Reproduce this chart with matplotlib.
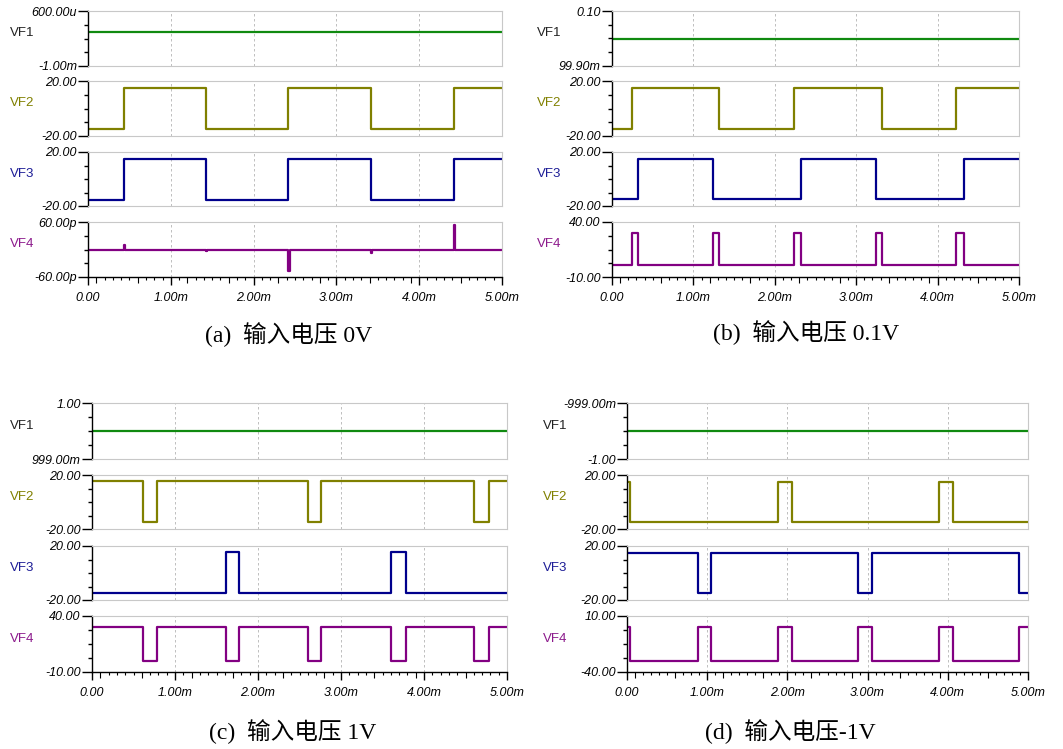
import numpy as np
import matplotlib
matplotlib.use("Agg")
import matplotlib.pyplot as plt

W, H = 1063, 749

# ---- data (time in ms) ----
# (a) input 0V
a_vf1_t = [0, 5.0]
a_vf1_v = [-0.01, -0.01]            # mV
a_vf2_t = [0, 0.43, 1.42, 2.42, 3.42, 4.42, 5.0]
a_vf2_v = [-14.9, 14.7, -14.9, 14.7, -14.9, 14.7, 14.7]
a_vf3_t = [0, 0.43, 1.42, 2.42, 3.42, 4.42, 5.0]
a_vf3_v = [-15.4, 15.1, -15.4, 15.1, -15.4, 15.1, 15.1]
a_vf4_t = [0, 0.43, 0.445, 1.42, 1.435, 2.42, 2.435, 3.42, 3.435, 4.42, 4.435, 5.0]
a_vf4_v = [0, 9, 0, -3, 0, -46, 0, -7, 0, 53, 0, 0]   # pV

# (b) input 0.1V
b_vf1_t = [0, 5.0]
b_vf1_v = [0.09995, 0.09995]
b_vf2_t = [0, 0.24, 1.32, 2.24, 3.32, 4.23, 5.0]
b_vf2_v = [-15, 15, -15, 15, -15, 15, 15]
b_vf3_t = [0, 0.315, 1.235, 2.32, 3.24, 4.32, 5.0]
b_vf3_v = [-15, 15, -15, 15, -15, 15, 15]
b_vf4_t = [0, 0.24, 0.315, 1.235, 1.32, 2.24, 2.32, 3.24, 3.32, 4.23, 4.32, 5.0]
b_vf4_v = [0.5, 30, 0.5, 30, 0.5, 30, 0.5, 30, 0.5, 30, 0.5, 0.5]

# (c) input 1V
c_vf1_t = [0, 5.0]
c_vf1_v = [0.9995, 0.9995]
c_vf2_t = [0, 0.61, 0.78, 2.60, 2.76, 4.60, 4.78, 5.0]
c_vf2_v = [15.4, -15, 15.4, -15, 15.4, -15, 15.4, 15.4]
c_vf3_t = [0, 1.61, 1.77, 3.60, 3.78, 5.0]
c_vf3_v = [-15, 15.4, -15, 15.4, -15, -15]
c_vf4_t = [0, 0.61, 0.78, 1.61, 1.77, 2.60, 2.76, 3.60, 3.78, 4.60, 4.78, 5.0]
c_vf4_v = [30, 0, 30, 0, 30, 0, 30, 0, 30, 0, 30, 30]

# (d) input -1V
d_vf1_t = [0, 5.0]
d_vf1_v = [-0.9995, -0.9995]
d_vf2_t = [0, 0.04, 1.88, 2.06, 3.89, 4.06, 5.0]
d_vf2_v = [15, -15, 15, -15, 15, -15, -15]
d_vf3_t = [0, 0.88, 1.05, 2.88, 3.05, 4.89, 5.0]
d_vf3_v = [15, -15, 15, -15, 15, -15, -15]
d_vf4_t = [0, 0.04, 0.88, 1.05, 1.88, 2.06, 2.88, 3.05, 3.89, 4.06, 4.89, 5.0]
d_vf4_v = [0, -30, 0, -30, 0, -30, 0, -30, 0, -30, 0, 0]

# y-axis ranges and their end labels (bottom, top)
a_ylims = [(-1.0, 0.6), (-20, 20), (-20, 20), (-60, 60)]
a_ylabels = [("-1.00m", "600.00u"), ("-20.00", "20.00"), ("-20.00", "20.00"), ("-60.00p", "60.00p")]
b_ylims = [(0.0999, 0.1), (-20, 20), (-20, 20), (-10, 40)]
b_ylabels = [("99.90m", "0.10"), ("-20.00", "20.00"), ("-20.00", "20.00"), ("-10.00", "40.00")]
c_ylims = [(0.999, 1.0), (-20, 20), (-20, 20), (-10, 40)]
c_ylabels = [("999.00m", "1.00"), ("-20.00", "20.00"), ("-20.00", "20.00"), ("-10.00", "40.00")]
d_ylims = [(-1.0, -0.999), (-20, 20), (-20, 20), (-40, 10)]
d_ylabels = [("-1.00", "-999.00m"), ("-20.00", "20.00"), ("-20.00", "20.00"), ("-40.00", "10.00")]

names = ["VF1", "VF2", "VF3", "VF4"]
name_colors = ["#222222", "#808000", "#1c1c96", "#8c1a8c"]
line_colors = ["#108a10", "#808000", "#00008c", "#820082"]
xticks = [0, 1, 2, 3, 4, 5]
xticklabels = ["0.00", "1.00m", "2.00m", "3.00m", "4.00m", "5.00m"]

captions = ["(a)  输入电压 0V", "(b)  输入电压 0.1V", "(c)  输入电压 1V", "(d)  输入电压-1V"]

fig = plt.figure(figsize=(W / 100, H / 100), dpi=100)
fig.patch.set_facecolor("white")


def draw_panel(left, right, rows, label_x, series, ylims, ylabels, caption, cap_xy):
    for i, ((top, bot), (t, v), yl, ytl) in enumerate(zip(rows, series, ylims, ylabels)):
        ax = fig.add_axes([left / W, 1 - bot / H, (right - left) / W, (bot - top) / H])
        ax.step(t, v, where="post", color=line_colors[i], lw=1.6)
        ax.set_xlim(0, 5)
        ax.set_ylim(*yl)
        for x in [1, 2, 3, 4]:
            ax.axvline(x, color="#b4b4b4", lw=0.6, ls=(0, (3, 3)), zorder=0)
        for s in ["top", "right", "bottom"]:
            ax.spines[s].set_color("#c8c8c8")
            ax.spines[s].set_linewidth(0.8)
        ax.spines["left"].set_color("black")
        ax.spines["left"].set_linewidth(1.0)
        lo, hi = yl
        ax.set_yticks([lo, hi], labels=list(ytl))
        ax.set_yticks([lo + (hi - lo) * k / 4 for k in (1, 2, 3)], minor=True)
        ax.tick_params(axis="y", which="major", length=7, width=1.0, pad=1,
                       labelsize=9, direction="out")
        ax.tick_params(axis="y", which="minor", length=3, width=1.0, direction="out")
        for lab in ax.get_yticklabels():
            lab.set_fontstyle("italic")
            lab.set_fontfamily("Liberation Sans")
        if i == 3:
            ax.spines["bottom"].set_color("black")
            ax.spines["bottom"].set_linewidth(1.0)
            ax.set_xticks(xticks, labels=xticklabels)
            ax.set_xticks(np.arange(0, 5.01, 0.1), minor=True)
            ax.tick_params(axis="x", which="major", length=6, width=1.0, pad=5,
                           labelsize=9, direction="out")
            ax.tick_params(axis="x", which="minor", length=2.5, width=0.8, direction="out")
            for tk, loc in zip(ax.xaxis.get_minor_ticks(), np.arange(0, 5.01, 0.1)):
                if abs(loc * 2 - round(loc * 2)) < 1e-6:
                    tk.tick1line.set_markersize(4)
            for lab in ax.get_xticklabels():
                lab.set_fontstyle("italic")
                lab.set_fontfamily("Liberation Sans")
        else:
            ax.set_xticks([])
        fig.text(label_x / W, 1 - ((top + bot) / 2 - 5) / H, names[i], color=name_colors[i],
                 fontsize=9.5, family="Liberation Sans", ha="left", va="center")
    fig.text(cap_xy[0] / W, 1 - cap_xy[1] / H, caption, ha="center", va="center",
             fontsize=17, family=["Liberation Serif", "Noto Sans CJK SC"])


rows_top = [(11, 66), (81, 136), (152, 206), (222, 277)]
rows_bot = [(403, 459), (475, 529), (546, 600), (616, 672)]

draw_panel(88, 502, rows_top, 10,
           [(a_vf1_t, a_vf1_v), (a_vf2_t, a_vf2_v), (a_vf3_t, a_vf3_v), (a_vf4_t, a_vf4_v)],
           a_ylims, a_ylabels, captions[0], (289, 335))
draw_panel(612, 1019, rows_top, 537,
           [(b_vf1_t, b_vf1_v), (b_vf2_t, b_vf2_v), (b_vf3_t, b_vf3_v), (b_vf4_t, b_vf4_v)],
           b_ylims, b_ylabels, captions[1], (806, 333))
draw_panel(92, 507, rows_bot, 10,
           [(c_vf1_t, c_vf1_v), (c_vf2_t, c_vf2_v), (c_vf3_t, c_vf3_v), (c_vf4_t, c_vf4_v)],
           c_ylims, c_ylabels, captions[2], (293, 732))
draw_panel(627, 1028, rows_bot, 543,
           [(d_vf1_t, d_vf1_v), (d_vf2_t, d_vf2_v), (d_vf3_t, d_vf3_v), (d_vf4_t, d_vf4_v)],
           d_ylims, d_ylabels, captions[3], (790, 732))

fig.savefig("out.png", dpi=100, facecolor="white")
